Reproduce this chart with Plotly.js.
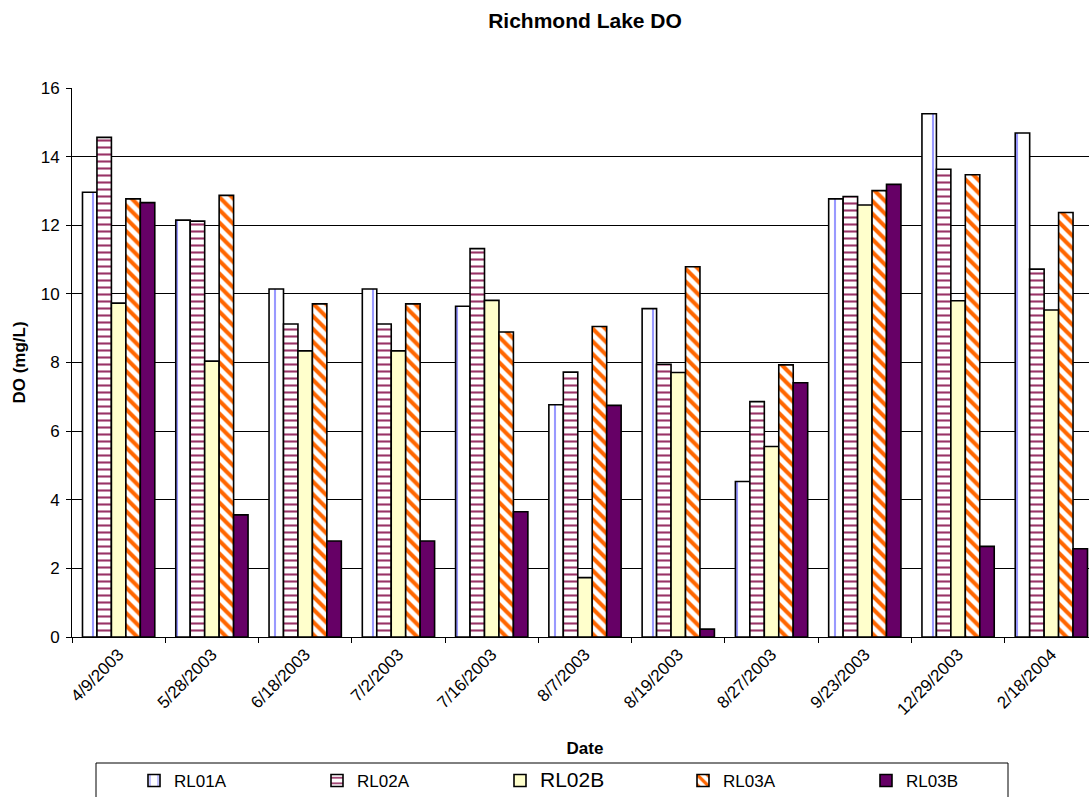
<!DOCTYPE html>
<html>
<head>
<meta charset="utf-8">
<script src="https://cdn.plot.ly/plotly-3.0.1.min.js"></script>
<style>
  html, body { margin: 0; padding: 0; overflow: hidden; background: #fff; }
  #chart { width: 1110px; height: 797px; }
</style>
</head>
<body>
<div id="chart"></div>
<script>
const dates = ['4/9/2003','5/28/2003','6/18/2003','7/2/2003','7/16/2003','8/7/2003','8/19/2003','8/27/2003','9/23/2003','12/29/2003','2/18/2004'];
const RL01A = [12.96, 12.15, 10.14, 10.14, 9.64, 6.77, 9.57, 4.53, 12.77, 15.25, 14.69];
const RL02A = [14.56, 12.12, 9.12, 9.12, 11.32, 7.72, 7.95, 6.86, 12.84, 13.63, 10.72];
const RL02B = [9.73, 8.04, 8.34, 8.34, 9.81, 1.73, 7.71, 5.55, 12.59, 9.80, 9.53];
const RL03A = [12.77, 12.87, 9.71, 9.71, 8.89, 9.05, 10.79, 7.93, 13.01, 13.47, 12.37];
const RL03B = [12.66, 3.56, 2.80, 2.80, 3.65, 6.75, 0.23, 7.41, 13.19, 2.64, 2.57];

const FONT = 'Arial, "Liberation Sans", sans-serif';
const outline = {color: '#000000', width: 1.6};

const traces = [
  {name: 'RL01A', y: RL01A, marker: {color: '#FFFFFF', line: outline,
     pattern: {shape: '|', fgcolor: '#9999FF', bgcolor: '#FFFFFF', size: 14, solidity: 0.15, fillmode: 'replace'}}},
  {name: 'RL02A', y: RL02A, marker: {color: '#FFFFFF', line: outline,
     pattern: {shape: '-', fgcolor: '#993366', bgcolor: '#FFFFFF', size: 7, solidity: 0.3, fillmode: 'replace'}}},
  {name: '<span style="font-size:21px">RL02B</span>', y: RL02B, marker: {color: '#FFFFCC', line: outline}},
  {name: 'RL03A', y: RL03A, marker: {color: '#FFFFFF', line: outline,
     pattern: {shape: '\\', fgcolor: '#FF6600', bgcolor: '#FFFFFF', size: 9, solidity: 0.45, fillmode: 'replace'}}},
  {name: 'RL03B', y: RL03B, marker: {color: '#660066', line: outline}}
].map(t => Object.assign({type: 'bar', x: dates, hoverinfo: 'x+y+name'}, t));

const layout = {
  width: 1110, height: 797,
  margin: {l: 72, r: 12, t: 88, b: 160},
  paper_bgcolor: '#FFFFFF', plot_bgcolor: '#FFFFFF',
  font: {family: FONT, size: 17, color: '#000000'},
  barmode: 'group', bargap: 0.225, bargroupgap: 0,
  title: {text: '<b>Richmond Lake DO</b>', font: {family: FONT, size: 21, color: '#000'},
          x: 0.5, xref: 'paper', xanchor: 'center', y: 1 - 21/797, yref: 'container', yanchor: 'middle'},
  xaxis: {
    type: 'category', tickangle: -45, tickson: 'boundaries', automargin: false,
    ticks: 'outside', ticklen: 5, tickcolor: '#000', tickwidth: 1,
    showline: true, linecolor: '#000', linewidth: 1, showgrid: false,
    tickfont: {family: FONT, size: 17},
    title: {text: '<b>Date</b>', font: {family: FONT, size: 17}, standoff: 24}
  },
  yaxis: {
    range: [0, 16], dtick: 2, tick0: 0, automargin: false,
    ticks: 'outside', ticklen: 5, tickcolor: '#000', tickwidth: 1,
    showline: true, linecolor: '#000', linewidth: 1, ticklabelstandoff: 3,
    showgrid: true, gridcolor: '#000000', gridwidth: 1, zeroline: false,
    tickfont: {family: FONT, size: 17},
    title: {text: '<b>DO (mg/L)</b>', font: {family: FONT, size: 17}, standoff: 10}
  },
  showlegend: true,
  legend: {
    orientation: 'h', x: (134 - 72) / 1026, xanchor: 'left',
    yref: 'container', y: 1 - 781/797, yanchor: 'middle',
    entrywidth: 138, entrywidthmode: 'pixels',
    font: {family: FONT, size: 17}, bgcolor: 'rgba(0,0,0,0)', borderwidth: 0,
    traceorder: 'normal'
  },
  shapes: [
    {type: 'rect', xref: 'paper', yref: 'paper',
     x0: (96 - 72) / 1026, x1: (1008 - 72) / 1026,
     y0: (637 - 763) / 549, y1: (637 - 820) / 549,
     line: {color: '#000', width: 1}, fillcolor: 'rgba(0,0,0,0)', layer: 'below'}
  ]
};

Plotly.newPlot('chart', traces, layout, {displayModeBar: false, staticPlot: true});
</script>
</body>
</html>
